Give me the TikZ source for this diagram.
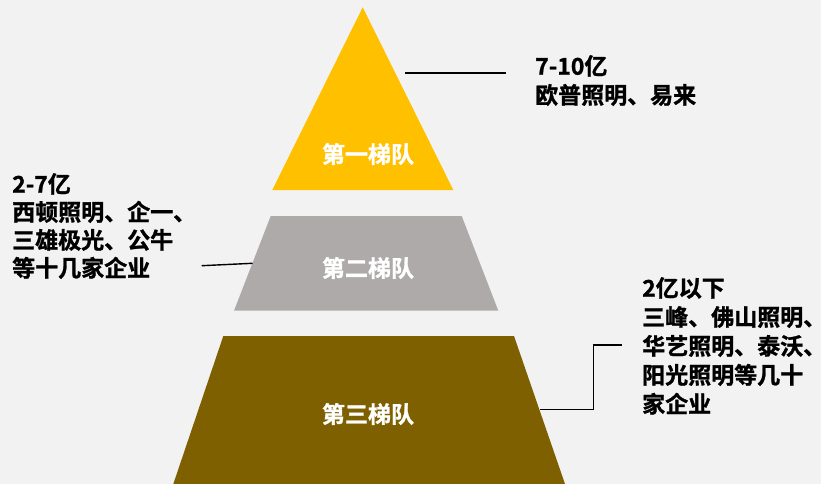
\documentclass[tikz,border=0pt]{standalone}
\usepackage{fontspec}
\setmainfont{Noto Sans CJK SC Bold}
\newfontfamily\cjkb[BoldFont={Noto Sans CJK SC Bold}, BoldFeatures={FakeBold=1.2}]{Noto Sans CJK SC Bold}
\definecolor{bgc}{HTML}{F2F2F2}
\definecolor{tierone}{HTML}{FFC000}
\definecolor{tiertwo}{HTML}{AEAAAA}
\definecolor{tierthree}{HTML}{7F6000}
\tikzset{
  tierlabel/.style={text=white, font=\cjkb\bfseries\fontsize{23}{28}\selectfont, inner sep=0},
  infotext/.style={text=black, font=\cjkb\bfseries\fontsize{23}{29}\selectfont, align=left, anchor=north west, inner sep=0},
  leader/.style={draw=black, line width=1.4pt}
}
\begin{document}
\begin{tikzpicture}[x=1pt,y=-1pt]
\path[use as bounding box, fill=bgc] (0,0) rectangle (821,484);
% tiers
\fill[tierone] (362.7,7.3) -- (453.3,190) -- (272.3,190) -- cycle;
\fill[tiertwo] (270.7,216) -- (461.7,216) -- (498.3,310.7) -- (234,310.7) -- cycle;
\fill[tierthree] (223.3,336) -- (514,336) -- (565,484) -- (173.3,484) -- cycle;
\node[tierlabel] (t1) at (368,154) {第一梯队};
\node[tierlabel] (t2) at (368,268) {第二梯队};
\node[tierlabel] (t3) at (368,414) {第三梯队};
% info texts
\node[infotext] (i1) at (535,55) {7-10亿\\欧普照明、易来};
\node[infotext, font=\cjkb\bfseries\fontsize{23}{28}\selectfont] (i2) at (12,173) {2-7亿\\西顿照明、企一、\\三雄极光、公牛\\等十几家企业};
\node[infotext] (i3) at (642,277) {2亿以下\\三峰、佛山照明、\\华艺照明、泰沃、\\阳光照明等几十\\家企业};
% connector points
\coordinate (a1) at (405,73);
\coordinate (a2) at (506,73);
\coordinate (b1) at (252.5,263.3);
\coordinate (b2) at (201.7,265.7);
\coordinate (c1) at (539.5,409.3);
\coordinate (c2) at (593.3,409.3);
\coordinate (c3) at (593.3,345);
\coordinate (c4) at (621.7,345);
\draw[leader] (a1) -- (a2);
\draw[leader] (b1) -- (b2);
\draw[leader] (c1) -- (c2) -- (c3) -- (c4);
\end{tikzpicture}
\end{document}
